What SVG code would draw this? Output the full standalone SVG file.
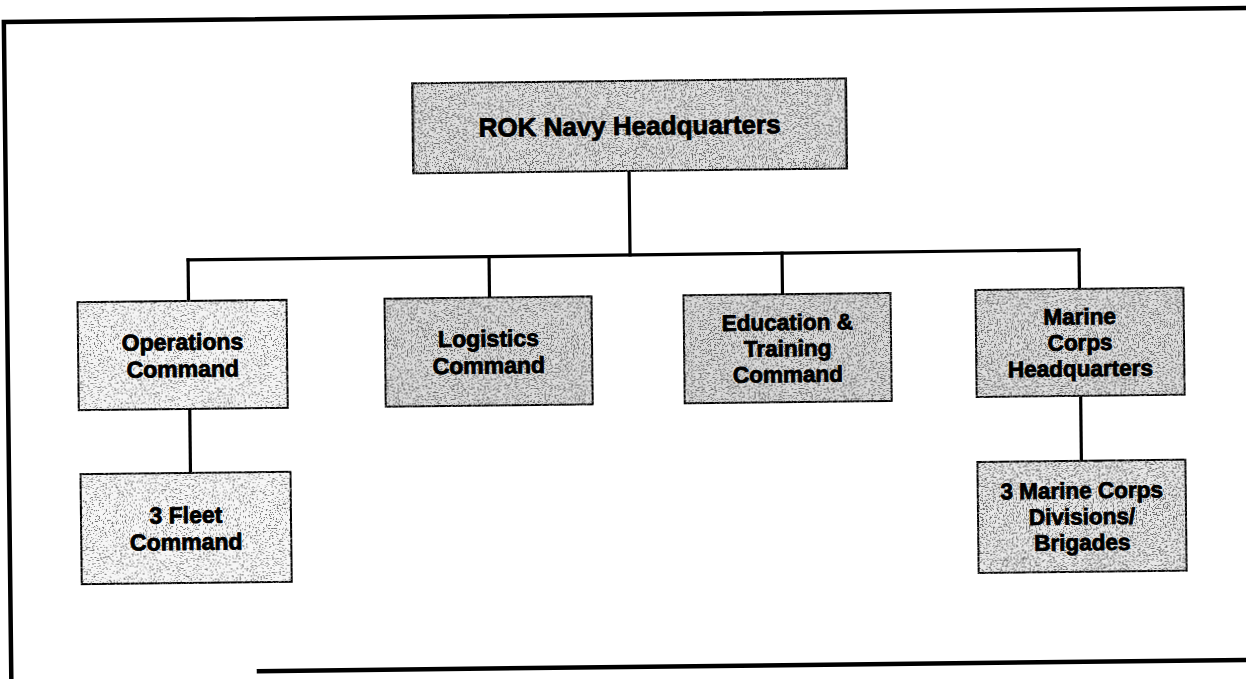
<svg xmlns="http://www.w3.org/2000/svg" width="1246" height="679" viewBox="0 0 1246 679">
  <defs>
    <style>
      .frame { fill: none; stroke: #000; stroke-width: 4.5; }
      .box { stroke: #000; stroke-width: 4; }
      .link { fill: none; stroke: #000; stroke-width: 3.2; stroke-linecap: square; }
      .lbl { font-family: "Liberation Sans", Arial, Helvetica, sans-serif; font-weight: bold; fill: #000; stroke: #000; stroke-width: 0.9; stroke-linejoin: round; text-anchor: middle; }
      .big { font-size: 26px; }
      .mid { font-size: 23px; }
      .small { font-size: 22.5px; }
    </style>
    <!-- stippled halftone texture laid over the box fills -->
    <filter id="grain" x="0" y="0" width="1" height="1" color-interpolation-filters="sRGB">
      <feTurbulence type="fractalNoise" baseFrequency="0.7" numOctaves="2" seed="11" result="noise"/>
      <feColorMatrix in="noise" type="matrix" values="0 0 0 0 0.4  0 0 0 0 0.4  0 0 0 0 0.4  -14 0 0 0 6.2" result="dots"/>
      <feComposite in="dots" in2="SourceAlpha" operator="in" result="clipped"/>
      <feMerge>
        <feMergeNode in="SourceGraphic"/>
        <feMergeNode in="clipped"/>
      </feMerge>
    </filter>
    <!-- sparser stipple for the lightest boxes -->
    <filter id="grain-light" x="0" y="0" width="1" height="1" color-interpolation-filters="sRGB">
      <feTurbulence type="fractalNoise" baseFrequency="0.7" numOctaves="2" seed="5" result="noise"/>
      <feColorMatrix in="noise" type="matrix" values="0 0 0 0 0.45  0 0 0 0 0.45  0 0 0 0 0.45  -16 0 0 0 6.4" result="dots"/>
      <feComposite in="dots" in2="SourceAlpha" operator="in" result="clipped"/>
      <feMerge>
        <feMergeNode in="SourceGraphic"/>
        <feMergeNode in="clipped"/>
      </feMerge>
    </filter>
  </defs>

  <rect width="1246" height="679" fill="#fff"/>

  <!-- whole sheet sits slightly skewed on the page -->
  <g transform="rotate(-0.65 623 340)">
    <!-- outer frame: top, left and bottom rules -->
    <g id="frame">
      <polyline class="frame" points="1270,15 7.5,15 7.5,700"/>
      <line class="frame" x1="253" y1="667" x2="1270" y2="667"/>
    </g>

    <g id="connectors">
      <line class="link" x1="631" y1="172" x2="631" y2="255"/>
      <line class="link" x1="189" y1="255" x2="1080" y2="255"/>
      <line class="link" x1="189" y1="255" x2="189" y2="295"/>
      <line class="link" x1="490" y1="255" x2="490" y2="295"/>
      <line class="link" x1="783" y1="255" x2="783" y2="295"/>
      <line class="link" x1="1080" y1="255" x2="1080" y2="293"/>
      <line class="link" x1="189" y1="405" x2="189" y2="467"/>
      <line class="link" x1="1080" y1="402" x2="1080" y2="465"/>
    </g>

    <g id="rok-navy-hq">
      <rect class="box" x="414.5" y="80" width="435" height="92" fill="#e0e0e0" filter="url(#grain)"/>
      <text class="lbl big" x="632" y="135">ROK Navy Headquarters</text>
    </g>

    <g id="operations-command">
      <rect class="box" x="77" y="295" width="211" height="110" fill="#f4f4f4" filter="url(#grain-light)"/>
      <text class="lbl mid" x="182.5" y="345">Operations</text>
      <text class="lbl mid" x="182.5" y="372">Command</text>
    </g>

    <g id="logistics-command">
      <rect class="box" x="384" y="295" width="209" height="110" fill="#dcdcdc" filter="url(#grain)"/>
      <text class="lbl mid" x="488.5" y="345">Logistics</text>
      <text class="lbl mid" x="488.5" y="372">Command</text>
    </g>

    <g id="education-training-command">
      <rect class="box" x="683" y="295" width="209" height="110" fill="#d9d9d9" filter="url(#grain)"/>
      <text class="lbl small" x="787.5" y="332">Education &amp;</text>
      <text class="lbl small" x="787.5" y="358">Training</text>
      <text class="lbl small" x="787.5" y="384">Command</text>
    </g>

    <g id="marine-corps-hq">
      <rect class="box" x="975" y="293" width="210" height="109" fill="#dedede" filter="url(#grain)"/>
      <text class="lbl small" x="1080" y="329.5">Marine</text>
      <text class="lbl small" x="1080" y="355.5">Corps</text>
      <text class="lbl small" x="1080" y="381.5">Headquarters</text>
    </g>

    <g id="fleet-command">
      <rect class="box" x="78" y="467" width="212" height="112" fill="#f6f6f6" filter="url(#grain-light)"/>
      <text class="lbl mid" x="184" y="518">3 Fleet</text>
      <text class="lbl mid" x="184" y="545">Command</text>
    </g>

    <g id="marine-divisions">
      <rect class="box" x="975" y="465" width="210" height="113" fill="#e8e8e8" filter="url(#grain)"/>
      <text class="lbl small" x="1080" y="503.5">3 Marine Corps</text>
      <text class="lbl small" x="1080" y="529.5">Divisions/</text>
      <text class="lbl small" x="1080" y="555.5">Brigades</text>
    </g>
  </g>
</svg>
